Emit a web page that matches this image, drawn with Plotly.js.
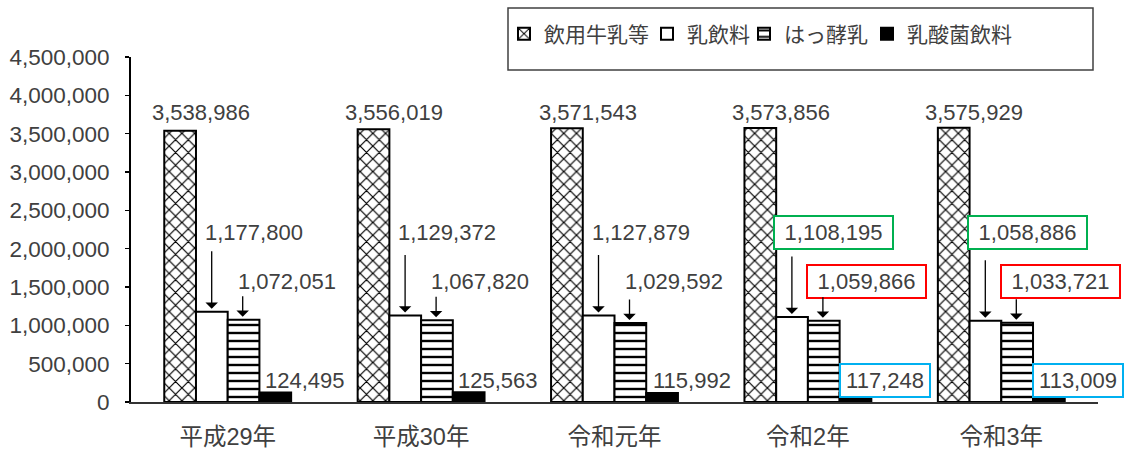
<!DOCTYPE html>
<html><head><meta charset="utf-8">
<script src="https://cdn.plot.ly/plotly-3.0.1.min.js"></script>
<style>html,body{margin:0;padding:0;background:#fff}#chart{width:1126px;height:449px}</style>
</head><body><div id="chart"></div>
<script>
// ---- data ----
const categories = ['平成29年', '平成30年', '令和元年', '令和2年', '令和3年'];
const seriesNames = ['飲用牛乳等', '乳飲料', 'はっ酵乳', '乳酸菌飲料'];
const drinkingMilk = [3538986, 3556019, 3571543, 3573856, 3575929];
const milkBeverage = [1177800, 1129372, 1127879, 1108195, 1058886];
const fermentedMilk = [1072051, 1067820, 1029592, 1059866, 1033721];
const lacticDrink = [124495, 125563, 115992, 117248, 113009];
const yTickVals = [0, 500000, 1000000, 1500000, 2000000, 2500000, 3000000, 3500000, 4000000, 4500000];

// ---- layout constants (style) ----
const W = 1126, H = 449, ML = 131, MR = 28, MT = 57, MB = 47;
const plotW = W - ML - MR, plotH = H - MT - MB;
const py = px => (H - MB - px) / plotH;   // pixel row -> paper y
const pxX = px => (px - ML) / plotW;      // pixel col -> paper x
const FONT = '"Liberation Sans", Arial, "Noto Sans CJK JP", sans-serif';
const TXT = '#404040';
const highlighted = ['令和2年', '令和3年'];
const fmt = v => v.toLocaleString('en-US');
const legendTextStart = [547, 690, 787, 910];
const legendNames = ['legend', 'legend2', 'legend3', 'legend4'];

const outline = {color: 'black', width: 2};
const traces = [
  {name: seriesNames[0], y: drinkingMilk,
   marker: {color: 'white', line: outline, pattern: {shape: 'x', size: 9, solidity: 0.25, fgcolor: 'black', bgcolor: 'white'}}},
  {name: seriesNames[1], y: milkBeverage,
   marker: {color: 'white', line: outline}},
  {name: seriesNames[2], y: fermentedMilk,
   marker: {color: 'white', line: outline, pattern: {shape: '-', size: 8, solidity: 0.3, fgcolor: 'black', bgcolor: 'white'}}},
  {name: seriesNames[3], y: lacticDrink,
   marker: {color: 'black', line: outline}}
].map((t, k) => Object.assign({type: 'bar', x: categories, hoverinfo: 'skip', cliponaxis: false, legend: legendNames[k]}, t));

// label styling per series: horizontal shift from category centre, label row in pixels
const labelStyle = [
  {dx: -27, row: 112},
  {dx: 26, row: 232, box: '#00b050', boxW: 109},
  {dx: 59, row: 281, box: '#ff0000', boxW: 109},
  {dx: 77, row: 380, box: '#00b0f0', boxW: 80}
];
const arrowStyle = [null, {dx: -16, ay: -62}, {dx: 15, ay: -25}, null];
const seriesValues = [drinkingMilk, milkBeverage, fermentedMilk, lacticDrink];

const annotations = [];
seriesValues.forEach((vals, s) => {
  vals.forEach((v, i) => {
    const ls = labelStyle[s];
    const boxed = ls.box && highlighted.includes(categories[i]);
    const a = {x: categories[i], xref: 'x', yref: 'paper', y: py(ls.row), yanchor: 'middle',
      xshift: ls.dx, text: fmt(v), showarrow: false,
      font: {family: FONT, size: 22, color: TXT}};
    if (boxed) {
      Object.assign(a, {bordercolor: ls.box, borderwidth: 2, borderpad: 4, width: ls.boxW, height: 23, bgcolor: 'white'});
    }
    annotations.push(a);
    const as = arrowStyle[s];
    if (as) {
      annotations.push({x: categories[i], y: v, xref: 'x', yref: 'y', xshift: as.dx, text: '',
        showarrow: true, ax: 0, ay: as.ay, arrowhead: 1, arrowsize: 1.6, arrowwidth: 1.3,
        arrowcolor: 'black', standoff: 3});
    }
  });
});

const layout = {
  width: W, height: H,
  margin: {l: ML, r: MR, t: MT, b: MB, pad: 0, autoexpand: false},
  paper_bgcolor: 'white', plot_bgcolor: 'white',
  barmode: 'group', bargap: 0.344, bargroupgap: 0,
  font: {family: FONT, color: TXT},
  xaxis: {type: 'category', range: [-0.5, categories.length - 0.5], autorange: false,
    showline: true, linecolor: '#333', linewidth: 2, ticks: '',
    showgrid: false, zeroline: false, tickfont: {size: 23.5, color: TXT, family: FONT},
    ticklabelstandoff: 13, fixedrange: true, automargin: false},
  yaxis: {range: [0, 4500000], autorange: false, tickvals: yTickVals, tickformat: ',d', showline: true, linecolor: 'black',
    linewidth: 2, ticks: 'outside', ticklen: 4, tickwidth: 1.5, tickcolor: 'black', showgrid: false,
    zeroline: false, tickfont: {size: 22.5, color: TXT, family: FONT}, ticklabelstandoff: 11, fixedrange: true,
    automargin: false},
  showlegend: true,
  shapes: [{type: 'rect', xref: 'paper', yref: 'paper', x0: pxX(508), x1: pxX(1093), y0: py(70), y1: py(8),
    line: {color: '#404040', width: 1.5}, fillcolor: 'rgba(0,0,0,0)', layer: 'above'}],
  annotations: annotations
};
legendNames.forEach((ln, k) => {
  layout[ln] = {orientation: 'h', x: pxX(legendTextStart[k] - 43), xanchor: 'left', y: py(34), yanchor: 'middle',
    font: {size: 21, color: TXT, family: FONT}, bgcolor: 'rgba(0,0,0,0)', borderwidth: 0, itemwidth: 30,
    itemclick: false, itemdoubleclick: false};
});

Plotly.newPlot('chart', traces, layout, {staticPlot: true, displayModeBar: false});
</script></body></html>
